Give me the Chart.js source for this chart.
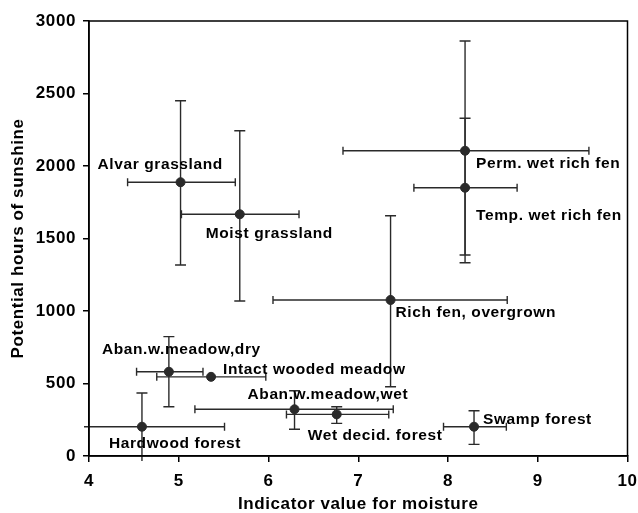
<!DOCTYPE html>
<html>
<head>
<meta charset="utf-8">
<script src="https://cdn.jsdelivr.net/npm/chart.js@4/dist/chart.umd.min.js"></script>
<style>
  body { margin: 0; background: #fff; }
</style>
</head>
<body>
<canvas id="habitatChart" width="638" height="513"></canvas>
<script>
// habitat types
const habitats = ['Alvar grassland', 'Moist grassland', 'Perm. wet rich fen', 'Temp. wet rich fen',
  'Rich fen, overgrown', 'Aban.w.meadow,dry', 'Intact wooded meadow', 'Aban.w.meadow,wet',
  'Wet decid. forest', 'Swamp forest', 'Hardwood forest'];

// mean values
const moisture = [5.02, 5.68, 8.19, 8.19, 7.36, 4.89, 5.36, 6.29, 6.76, 8.29, 4.59];
const sunshine = [1888, 1667, 2105, 1850, 1076, 581, 546, 322, 287, 202, 202];

// error bar ends
const moistureLow = [4.43, 5.03, 6.83, 7.62, 6.05, 4.53, 4.755, 5.18, 6.20, 7.95, 3.90];
const moistureHigh = [5.63, 6.34, 9.57, 8.77, 8.66, 5.27, 5.97, 7.39, 7.34, 8.65, 5.51];
const sunshineLow = [1317, 1069, 1333, 1386, 478, 340, 546, 184, 225, 80, -40];
const sunshineHigh = [2450, 2243, 2862, 2329, 1657, 823, 546, 450, 340, 312, 435];

// tick values
const xTicks = [4, 5, 6, 7, 8, 9, 10];
const yTicks = [0, 500, 1000, 1500, 2000, 2500, 3000];

// label offsets from the point (px)
const labelOffsets = [[-83, -18], [-34, 19], [11, 13], [11, 28], [5, 13], [-67, -22],
  [12, -7], [-47, -15], [-29, 21], [9, -7], [-33, 17]];

const FONT = '"Liberation Sans", Arial, sans-serif';
const ink = '#2a2a2a';

const errorBars = {
  id: 'errorBars',
  beforeDraw(chart) {
    chart.ctx.letterSpacing = '0.6px';
  },
  beforeDatasetsDraw(chart) {
    const { ctx, chartArea: a, scales: { x, y } } = chart;
    ctx.save();
    ctx.beginPath();
    ctx.rect(a.left - 5, a.top, a.right - a.left + 5, a.bottom - a.top + 5);
    ctx.clip();
    ctx.strokeStyle = ink;
    ctx.lineWidth = 1.4;
    habitats.forEach((h, i) => {
      const px = x.getPixelForValue(moisture[i]);
      const py = y.getPixelForValue(sunshine[i]);
      const x0 = x.getPixelForValue(moistureLow[i]);
      const x1 = x.getPixelForValue(moistureHigh[i]);
      ctx.beginPath();
      ctx.moveTo(x0, py); ctx.lineTo(x1, py);
      ctx.moveTo(x0, py - 4); ctx.lineTo(x0, py + 4);
      ctx.moveTo(x1, py - 4); ctx.lineTo(x1, py + 4);
      if (sunshineLow[i] !== sunshineHigh[i]) {
        const y0 = y.getPixelForValue(sunshineLow[i]);
        const y1 = y.getPixelForValue(sunshineHigh[i]);
        ctx.moveTo(px, y0); ctx.lineTo(px, y1);
        ctx.moveTo(px - 5.5, y0); ctx.lineTo(px + 5.5, y0);
        ctx.moveTo(px - 5.5, y1); ctx.lineTo(px + 5.5, y1);
      }
      ctx.stroke();
    });
    ctx.restore();
  },
  afterDatasetsDraw(chart) {
    const { ctx, scales: { x, y } } = chart;
    ctx.save();
    ctx.font = 'bold 15.5px ' + FONT;
    ctx.fillStyle = '#000';
    ctx.textAlign = 'left';
    ctx.textBaseline = 'middle';
    habitats.forEach((h, i) => {
      const px = x.getPixelForValue(moisture[i]);
      const py = y.getPixelForValue(sunshine[i]);
      ctx.fillText(h, px + labelOffsets[i][0], py + labelOffsets[i][1]);
    });
    ctx.restore();
  },
  afterDraw(chart) {
    const { ctx, chartArea: a } = chart;
    ctx.save();
    ctx.strokeStyle = '#000';
    ctx.lineWidth = 1.5;
    ctx.strokeRect(a.left, a.top, a.right - a.left, a.bottom - a.top);
    ctx.restore();
  }
};

new Chart(document.getElementById('habitatChart').getContext('2d'), {
  type: 'scatter',
  data: {
    datasets: [{
      data: moisture.map((m, i) => ({ x: m, y: sunshine[i] })),
      backgroundColor: ink,
      borderColor: ink,
      pointRadius: 4.5,
      pointHoverRadius: 4.5
    }]
  },
  plugins: [errorBars],
  options: {
    responsive: false,
    animation: false,
    layout: { padding: { left: 8, top: 21, right: 10.5, bottom: 0 } },
    plugins: { legend: { display: false }, tooltip: { enabled: false } },
    scales: {
      x: {
        type: 'linear',
        min: 4, max: 10,
        afterFit(scale) { scale.height = 57; scale.paddingLeft = 0; scale.paddingRight = 0; },
        afterBuildTicks(scale) { scale.ticks = xTicks.map(v => ({ value: v })); },
        grid: { drawOnChartArea: false, tickLength: 6, color: '#000', lineWidth: 1.5 },
        border: { color: '#000', width: 1.5 },
        ticks: {
          color: '#000', padding: 9, maxRotation: 0, callback: v => String(v),
          font: { family: FONT, size: 17, weight: 'bold' }
        },
        title: {
          display: true, text: 'Indicator value for moisture', color: '#000',
          padding: { top: 0, bottom: -2 },
          font: { family: FONT, size: 17, weight: 'bold' }
        }
      },
      y: {
        type: 'linear',
        min: 0, max: 3000,
        afterFit(scale) { scale.width = 81; scale.paddingTop = 0; scale.paddingBottom = 0; },
        afterBuildTicks(scale) { scale.ticks = yTicks.map(v => ({ value: v })); },
        grid: { drawOnChartArea: false, tickLength: 6, color: '#000', lineWidth: 1.5 },
        border: { color: '#000', width: 1.5 },
        ticks: {
          color: '#000', padding: 7, callback: v => String(v),
          font: { family: FONT, size: 17, weight: 'bold' }
        },
        title: {
          display: true, text: 'Potential hours of sunshine', color: '#000',
          padding: { top: 0, bottom: 0 },
          font: { family: FONT, size: 17, weight: 'bold' }
        }
      }
    }
  }
});
</script>
</body>
</html>
